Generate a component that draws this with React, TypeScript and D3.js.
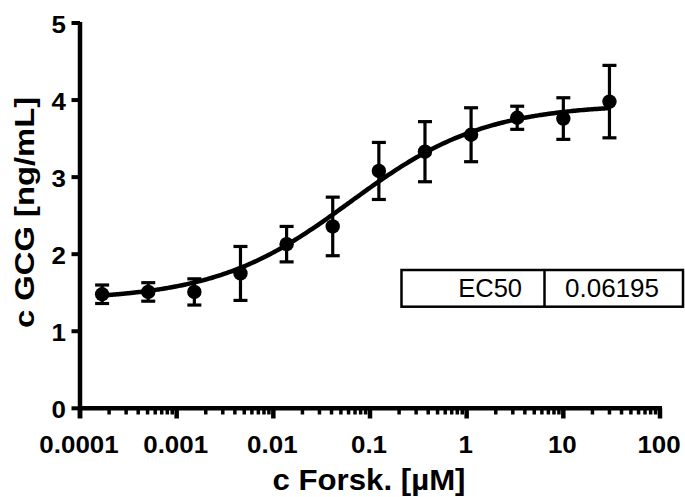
import React from "react";
import * as d3 from "d3";

// ---- data ----
const concentrations = [30, 10, 3.333, 1.111, 0.3704, 0.1235, 0.04115, 0.01372, 0.004572, 0.001524, 0.000508, 0.0001694].reverse();
const means = [1.48, 1.51, 1.51, 1.75, 2.13, 2.36, 3.08, 3.33, 3.55, 3.77, 3.76, 3.98];
const sds = [0.12, 0.12, 0.17, 0.35, 0.23, 0.38, 0.37, 0.39, 0.35, 0.15, 0.27, 0.47];
const xTickValues = [0.0001, 0.001, 0.01, 0.1, 1, 10, 100];
const xTickLabels = ["0.0001", "0.001", "0.01", "0.1", "1", "10", "100"];
const yTickValues = [0, 1, 2, 3, 4, 5];
// 4-parameter logistic fit
const fitBottom = 1.4;
const fitTop = 3.95;
const fitEC50 = 0.06195;
const fitHill = 0.62;
const tableLabel = "EC50";
const tableValue = "0.06195";
const xTitle = "c Forsk. [µM]";
const yTitle = "c GCG [ng/mL]";

const W = 685;
const H = 497;
const FONT = "'Liberation Sans', Arial, Helvetica, sans-serif";

export default function App() {
  const x = d3.scaleLog().domain([0.0001, 100]).range([80, 660]);
  const y = d3.scaleLinear().domain([0, 5]).range([408.3, 23]);

  const minorTicks: number[] = [];
  for (let e = -4; e < 2; e++) {
    for (let k = 2; k <= 9; k++) minorTicks.push(k * Math.pow(10, e));
  }

  const fit = (c: number) => fitBottom + (fitTop - fitBottom) / (1 + Math.pow(fitEC50 / c, fitHill));
  const lo = Math.log10(d3.min(concentrations)!);
  const hi = Math.log10(d3.max(concentrations)!);
  const curvePts = d3.range(0, 201).map((i) => {
    const c = Math.pow(10, lo + ((hi - lo) * i) / 200);
    return [x(c), y(fit(c))] as [number, number];
  });
  const line = d3.line().curve(d3.curveBasis)(curvePts) || "";

  const capW = 7;

  return (
    <svg width={W} height={H} style={{ position: "absolute", left: 0, top: 0, background: "#fff" }}>
      <rect x={0} y={0} width={W} height={H} fill="#fff" />
      {/* axes */}
      <line x1={80} x2={80} y1={y(5) - 1} y2={418} stroke="#000" strokeWidth={4.5} />
      <line x1={78} x2={662} y1={y(0)} y2={y(0)} stroke="#000" strokeWidth={4.5} />
      {yTickValues.map((v) => (
        <g key={"yt" + v}>
          <line x1={71.5} x2={80} y1={y(v)} y2={y(v)} stroke="#000" strokeWidth={4} />
          <text
            transform={`translate(66,${y(v) + 10}) scale(1.08,1)`}
            textAnchor="end"
            fontFamily={FONT}
            fontWeight="bold"
            fontSize={24}
          >
            {v}
          </text>
        </g>
      ))}
      {xTickValues.map((v, i) => (
        <g key={"xt" + v}>
          <line x1={x(v)} x2={x(v)} y1={y(0)} y2={418.5} stroke="#000" strokeWidth={4.5} />
          <text
            transform={`translate(${x(v) - 1},452.5) scale(1.08,1)`}
            textAnchor="middle"
            fontFamily={FONT}
            fontWeight="bold"
            fontSize={24}
          >
            {xTickLabels[i]}
          </text>
        </g>
      ))}
      {minorTicks.map((v) => (
        <line key={"mt" + v} x1={x(v)} x2={x(v)} y1={y(0)} y2={414.5} stroke="#000" strokeWidth={3.5} />
      ))}
      {/* titles */}
      <text
        transform={`translate(369,490) scale(1.04,1)`}
        textAnchor="middle"
        fontFamily={FONT}
        fontWeight="bold"
        fontSize={30}
      >
        {xTitle}
      </text>
      <text
        transform={`translate(34,212.5) rotate(-90) scale(1.17,1)`}
        textAnchor="middle"
        fontFamily={FONT}
        fontWeight="bold"
        fontSize={28}
      >
        {yTitle}
      </text>
      {/* error bars */}
      {concentrations.map((c, i) => (
        <g key={"eb" + i} stroke="#000" strokeWidth={3.2}>
          <line x1={x(c)} x2={x(c)} y1={y(means[i] - sds[i])} y2={y(means[i] + sds[i])} />
          <line x1={x(c) - capW} x2={x(c) + capW} y1={y(means[i] + sds[i])} y2={y(means[i] + sds[i])} />
          <line x1={x(c) - capW} x2={x(c) + capW} y1={y(means[i] - sds[i])} y2={y(means[i] - sds[i])} />
        </g>
      ))}
      {/* fit curve */}
      <path d={line} fill="none" stroke="#000" strokeWidth={4.5} />
      {/* points */}
      {concentrations.map((c, i) => (
        <circle key={"pt" + i} cx={x(c)} cy={y(means[i])} r={7.2} fill="#000" />
      ))}
      {/* results table */}
      <rect x={401.5} y={270} width={281.5} height={36.7} fill="#fff" stroke="#000" strokeWidth={2.5} />
      <line x1={544.5} x2={544.5} y1={270} y2={306.7} stroke="#000" strokeWidth={2.5} />
      <text x={522} y={297} textAnchor="end" fontFamily={FONT} fontSize={25.5}>
        {tableLabel}
      </text>
      <text x={565} y={297} textAnchor="start" fontFamily={FONT} fontSize={26}>
        {tableValue}
      </text>
    </svg>
  );
}
